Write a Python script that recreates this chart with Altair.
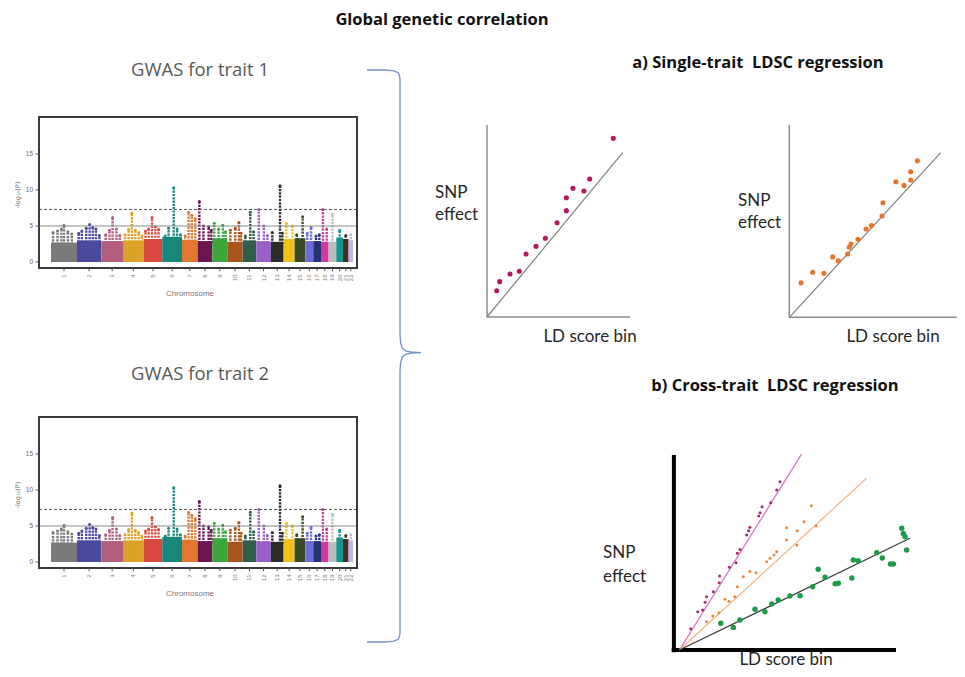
import altair as alt
import pandas as pd

# ---------------- Manhattan plot data ----------------
chromosomes = [str(i) for i in range(1, 23)]
chrom_width = [26, 24.3, 21.7, 20.6, 18.7, 19.7, 15.6, 14.7, 15, 15.3, 13.7,
               14.5, 12.8, 11, 10.7, 8, 7.7, 7.6, 7.7, 6.7, 5.6, 4.4]
chrom_base = [2.7, 3.0, 2.9, 3.0, 3.2, 3.5, 3.1, 2.9, 3.3, 2.8, 3.0,
              2.9, 2.8, 3.2, 3.3, 2.9, 2.9, 2.8, 2.8, 3.4, 3.2, 3.0]
chrom_colors = ["#7a7a7a", "#4a4a9e", "#b35d7f", "#dba227", "#d9493f", "#17877c",
                "#e0792f", "#6b1551", "#3aa63c", "#a9531d", "#2f5f4b", "#9a5fc9",
                "#2b2b2b", "#f0c31b", "#3b4a23", "#6c6cd6", "#26317a", "#d1399a",
                "#bdbdbd", "#14968f", "#4a2b1f", "#b9b9ea"]

peak_chrom = [1, 1, 1, 1, 1, 1,
              2, 2, 2, 2, 2, 2, 2,
              3, 3, 3, 3, 3,
              4, 4, 4, 4, 4, 4,
              5, 5, 5, 5, 5,
              6, 6, 6, 6, 6,
              7, 7, 7, 7,
              8, 8, 8, 8,
              9, 9, 9, 9,
              10, 10, 10, 10,
              11, 11, 11,
              12, 12, 12,
              13, 13, 13,
              14, 14, 15, 15, 16, 16, 17, 17, 18, 18, 19, 20, 21, 22]
peak_frac = [0.08, 0.25, 0.40, 0.50, 0.65, 0.80,
             0.07, 0.20, 0.38, 0.52, 0.65, 0.78, 0.92,
             0.20, 0.38, 0.52, 0.70, 0.85,
             0.10, 0.27, 0.43, 0.60, 0.76, 0.92,
             0.10, 0.27, 0.45, 0.63, 0.80,
             0.15, 0.32, 0.58, 0.75, 0.92,
             0.20, 0.42, 0.63, 0.85,
             0.12, 0.40, 0.75, 0.93,
             0.13, 0.42, 0.70, 0.88,
             0.20, 0.52, 0.76, 0.90,
             0.20, 0.56, 0.80,
             0.17, 0.52, 0.76,
             0.12, 0.72, 0.90,
             0.25, 0.80, 0.20, 0.75, 0.25, 0.72, 0.35, 0.78, 0.25, 0.75, 0.5, 0.5, 0.5, 0.5]
peak_value = [4.1, 4.3, 4.6, 5.1, 4.2, 3.9,
              4.0, 4.3, 4.7, 5.2, 4.8, 4.6, 3.7,
              3.8, 4.4, 6.2, 4.6, 3.7,
              3.8, 4.5, 6.8, 4.4, 4.1, 3.6,
              4.3, 4.6, 6.2, 4.9, 4.5,
              3.6, 4.7, 10.3, 4.6, 3.8,
              3.6, 6.9, 6.5, 6.0,
              8.4, 5.0, 4.9, 4.4,
              5.4, 4.6, 5.1, 4.2,
              4.4, 4.7, 5.5, 4.0,
              3.6, 6.9, 4.2,
              7.3, 5.0, 3.7,
              4.1, 10.6, 4.0,
              5.4, 5.0, 3.8, 6.3, 4.0, 4.8, 3.6, 3.8, 7.3, 4.6, 6.6, 4.4, 3.7, 3.8]

line_genomewide = 7.3
line_suggestive = 5.0
y_tick_values = [0, 5, 10, 15]

# ---------------- a) single-trait LDSC ----------------
st1_x = [0.68, 0.89, 1.61, 2.26, 2.73, 3.43, 4.08, 4.90, 5.55, 5.55, 6.01, 6.78, 7.18, 8.83]
st1_y = [1.37, 1.84, 2.24, 2.38, 3.28, 3.68, 4.10, 4.91, 5.54, 6.21, 6.70, 6.56, 7.19, 9.31]
st1_fit_x = [0, 9.49]
st1_fit_y = [0, 8.56]

st2_x = [0.67, 1.33, 1.97, 2.47, 2.79, 3.32, 3.41, 3.51, 3.91, 4.37, 4.68, 5.28, 5.33,
         6.07, 6.53, 6.91, 6.91, 7.29]
st2_y = [1.80, 2.34, 2.29, 3.14, 2.94, 3.29, 3.64, 3.81, 4.06, 4.59, 4.77, 5.27, 5.96,
         7.05, 6.86, 7.14, 7.57, 8.14]
st2_fit_x = [0, 8.62]
st2_fit_y = [0, 8.56]

# ---------------- b) cross-trait LDSC ----------------
ct_mag_x = [0.71, 1.03, 1.25, 1.36, 1.43, 1.73, 2.00, 2.02, 2.46, 2.76, 2.82, 2.94, 3.24,
            3.33, 3.39, 3.79, 3.85, 3.94, 4.33, 4.60, 4.75]
ct_mag_y = [1.09, 1.96, 2.05, 2.45, 2.73, 2.99, 3.45, 3.79, 4.24, 4.48, 4.96, 5.16, 5.90,
            6.12, 6.29, 6.87, 7.04, 7.35, 7.55, 8.21, 8.63]
ct_ora_x = [1.43, 1.71, 1.99, 2.26, 2.44, 2.71, 2.82, 3.09, 3.39, 3.67, 4.15, 4.30, 4.48,
            4.60, 5.05, 5.05, 5.51, 5.53, 5.84, 6.17, 6.38]
ct_ora_y = [1.45, 1.74, 1.91, 2.60, 2.50, 2.73, 3.25, 3.76, 4.02, 3.96, 4.53, 4.70, 4.87,
            5.04, 5.64, 6.27, 5.38, 6.12, 6.58, 7.40, 6.36]
ct_grn_x = [2.07, 2.64, 2.94, 3.62, 4.07, 4.38, 4.67, 5.20, 5.66, 6.23, 6.48, 6.79, 7.25,
            7.39, 8.00, 8.07, 8.29, 9.13, 9.38, 9.75, 9.88, 10.26, 10.33, 10.41, 10.48]
ct_grn_y = [1.37, 1.16, 1.54, 2.09, 1.96, 2.36, 2.56, 2.77, 2.78, 3.25, 4.14, 3.73, 3.40,
            3.42, 3.69, 4.62, 4.58, 4.99, 4.72, 4.41, 4.41, 6.24, 5.98, 5.81, 5.13]
ct_line_id = ["magenta", "magenta", "orange", "orange", "grey", "grey"]
ct_line_x = [0.2, 5.73, 0.2, 8.67, 0.2, 10.63]
ct_line_y = [0, 10.05, 0, 8.81, 0, 5.73]
ct_line_colors = {"magenta": "#d56fc4", "orange": "#f5b68a", "grey": "#3d3d3d"}

# curly brace outline (normalised 0..1 units)
brace_x = [0, 0.327, 0.491, 0.573, 0.6, 0.6, 0.61, 0.64, 0.70, 0.80, 0.98,
           0.80, 0.70, 0.64, 0.61, 0.6, 0.6, 0.573, 0.491, 0.327, 0]
brace_y = [0, 0, 0.0014, 0.0052, 0.014, 0.462, 0.476, 0.486, 0.491, 0.493, 0.494,
           0.495, 0.497, 0.502, 0.512, 0.526, 0.986, 0.995, 0.9986, 1, 1]


# ---------------- helpers ----------------
def sc(domain, rng):
    return alt.Scale(domain=domain, range=rng, nice=False, zero=False)


def text_layer(label, x, y, size=16, bold=False, color="#262626", align="center", font="Lato"):
    return alt.Chart(pd.DataFrame({"t": [label]})).mark_text(
        font=font, fontSize=size, fontWeight="bold" if bold else "normal",
        color=color, align=align, baseline="middle"
    ).encode(x=alt.value(x), y=alt.value(y), text="t:N")


# ---------------- Manhattan ----------------
starts, acc = [], 0.0
for w in chrom_width:
    starts.append(acc)
    acc += w
chrom_df = pd.DataFrame({
    "chrom": chromosomes, "start": starts,
    "end": [s + w for s, w in zip(starts, chrom_width)],
    "mid": [s + w / 2 for s, w in zip(starts, chrom_width)],
    "base": chrom_base, "zero": 0.0, "color": chrom_colors,
})
peak_df = pd.DataFrame({"chrom": peak_chrom, "frac": peak_frac, "peak": peak_value})
peak_df["x"] = [starts[c - 1] + f * chrom_width[c - 1] for c, f in zip(peak_chrom, peak_frac)]
peak_df["base"] = [chrom_base[c - 1] - 0.3 for c in peak_chrom]
peak_df["color"] = [chrom_colors[c - 1] for c in peak_chrom]
tick_df = pd.DataFrame({"v": y_tick_values, "lab": [str(v) for v in y_tick_values]})
XMIN, XMAX = -12, 306
YMIN, YMAX = -0.83, 20.14
frame_df = pd.DataFrame({"x0": [XMIN], "x1": [XMAX], "y0": [YMIN], "y1": [YMAX]})
thr_df = pd.DataFrame({"y": [line_genomewide, line_suggestive], "x0": XMIN, "x1": XMAX})


def manhattan(yrange):
    X = sc([XMIN, XMAX], [31, 349])
    Y = sc([YMIN, YMAX], yrange)
    col = alt.Color("color:N", scale=None)
    out = []
    out.append(alt.Chart(chrom_df).mark_rect().encode(
        x=alt.X("start:Q", scale=X, axis=None), x2="end:Q",
        y=alt.Y("zero:Q", scale=Y, axis=None), y2="base:Q", color=col))
    out.append(alt.Chart(peak_df).mark_rule(strokeWidth=2.4, strokeDash=[2.2, 1.1]).encode(
        x=alt.X("x:Q", scale=X, axis=None),
        y=alt.Y("base:Q", scale=Y, axis=None), y2="peak:Q", color=col))
    out.append(alt.Chart(peak_df).mark_circle(size=9, opacity=1).encode(
        x=alt.X("x:Q", scale=X, axis=None),
        y=alt.Y("peak:Q", scale=Y, axis=None), color=col))
    out.append(alt.Chart(thr_df.iloc[[0]]).mark_rule(color="#555555", strokeWidth=1, strokeDash=[3, 2]).encode(
        x=alt.X("x0:Q", scale=X, axis=None), x2="x1:Q",
        y=alt.Y("y:Q", scale=Y, axis=None)))
    out.append(alt.Chart(thr_df.iloc[[1]]).mark_rule(color="#8a8a8a", strokeWidth=1.2).encode(
        x=alt.X("x0:Q", scale=X, axis=None), x2="x1:Q",
        y=alt.Y("y:Q", scale=Y, axis=None)))
    out.append(alt.Chart(frame_df).mark_rect(fillOpacity=0, stroke="#3a3a3a", strokeWidth=2).encode(
        x=alt.X("x0:Q", scale=X, axis=None), x2="x1:Q",
        y=alt.Y("y0:Q", scale=Y, axis=None), y2="y1:Q"))
    # y ticks and labels
    out.append(alt.Chart(tick_df).mark_rule(color="#555555", strokeWidth=1).encode(
        x=alt.XDatum(XMIN - 3.5, scale=X, axis=None), x2=alt.X2Datum(XMIN),
        y=alt.Y("v:Q", scale=Y, axis=None)))
    out.append(alt.Chart(tick_df).mark_text(font="Liberation Sans", fontSize=6.5, color="#666666",
                                            align="right", baseline="middle").encode(
        x=alt.XDatum(XMIN - 6, scale=X, axis=None),
        y=alt.Y("v:Q", scale=Y, axis=None), text="lab:N"))
    # x ticks and labels
    out.append(alt.Chart(chrom_df).mark_rule(color="#555555", strokeWidth=1).encode(
        x=alt.X("mid:Q", scale=X, axis=None),
        y=alt.YDatum(YMIN, scale=Y, axis=None), y2=alt.Y2Datum(YMIN - 0.45)))
    out.append(alt.Chart(chrom_df).mark_text(font="Liberation Sans", fontSize=6, color="#777777",
                                             align="right", baseline="middle", angle=270).encode(
        x=alt.X("mid:Q", scale=X, axis=None),
        y=alt.YDatum(YMIN - 0.9, scale=Y, axis=None), text="chrom:N"))
    out.append(alt.Chart(pd.DataFrame({"t": ["Chromosome"]})).mark_text(
        font="Liberation Sans", fontSize=8, color="#777777", align="center", baseline="middle").encode(
        x=alt.XDatum(139, scale=X, axis=None),
        y=alt.YDatum(-4.5, scale=Y, axis=None), text="t:N"))
    out.append(alt.Chart(pd.DataFrame({"t": ["-log\u2081\u2080(P)"]})).mark_text(
        font="DejaVu Sans", fontSize=6.5, color="#666666", align="center", baseline="middle",
        angle=270).encode(
        x=alt.XDatum(XMIN - 21.5, scale=X, axis=None),
        y=alt.YDatum(9.3, scale=Y, axis=None), text="t:N"))
    return out


# ---------------- single-trait panels ----------------
def scatter_panel(xr, yr, px, py, fx, fy, color):
    X = sc([0, 10], xr)
    Y = sc([0, 10], yr)
    out = []
    axes = pd.DataFrame({"x0": [0, 0], "x1": [0, 10], "y0": [0, 0], "y1": [10, 0]})
    out.append(alt.Chart(axes).mark_rule(color="#8c8c8c", strokeWidth=1.5).encode(
        x=alt.X("x0:Q", scale=X, axis=None), x2="x1:Q",
        y=alt.Y("y0:Q", scale=Y, axis=None), y2="y1:Q"))
    out.append(alt.Chart(pd.DataFrame({"x": fx, "y": fy})).mark_line(color="#808080", strokeWidth=1.2).encode(
        x=alt.X("x:Q", scale=X, axis=None), y=alt.Y("y:Q", scale=Y, axis=None)))
    out.append(alt.Chart(pd.DataFrame({"x": px, "y": py})).mark_circle(size=26, opacity=1, color=color).encode(
        x=alt.X("x:Q", scale=X, axis=None), y=alt.Y("y:Q", scale=Y, axis=None)))
    return out


# ---------------- cross-trait panel ----------------
def cross_panel():
    X = sc([0, 10], [667, 888])
    Y = sc([0, 10], [642, 447])
    out = []
    axes = pd.DataFrame({"x0": [-0.05, -0.15], "x1": [-0.05, 10], "y0": [-0.12, 0], "y1": [10, 0]})
    out.append(alt.Chart(axes).mark_rule(color="#000000", strokeWidth=4).encode(
        x=alt.X("x0:Q", scale=X, axis=None), x2="x1:Q",
        y=alt.Y("y0:Q", scale=Y, axis=None), y2="y1:Q"))
    ldf = pd.DataFrame({"id": ct_line_id, "x": ct_line_x, "y": ct_line_y,
                        "c": [ct_line_colors[i] for i in ct_line_id]})
    out.append(alt.Chart(ldf).mark_line(strokeWidth=1.3).encode(
        x=alt.X("x:Q", scale=X, axis=None), y=alt.Y("y:Q", scale=Y, axis=None),
        detail="id:N", color=alt.Color("c:N", scale=None)))
    out.append(alt.Chart(pd.DataFrame({"x": ct_grn_x, "y": ct_grn_y})).mark_circle(
        size=30, opacity=1, color="#1f9a4b").encode(
        x=alt.X("x:Q", scale=X, axis=None), y=alt.Y("y:Q", scale=Y, axis=None)))
    out.append(alt.Chart(pd.DataFrame({"x": ct_ora_x, "y": ct_ora_y})).mark_circle(
        size=9, opacity=1, color="#ec8736").encode(
        x=alt.X("x:Q", scale=X, axis=None), y=alt.Y("y:Q", scale=Y, axis=None)))
    out.append(alt.Chart(pd.DataFrame({"x": ct_mag_x, "y": ct_mag_y})).mark_circle(
        size=9, opacity=1, color="#a8276f").encode(
        x=alt.X("x:Q", scale=X, axis=None), y=alt.Y("y:Q", scale=Y, axis=None)))
    return out


def brace():
    X = sc([0, 1], [359, 414])
    Y = sc([0, 1], [62, 634])
    df = pd.DataFrame({"x": brace_x, "y": brace_y, "o": list(range(len(brace_x)))})
    return [alt.Chart(df).mark_line(color="#7391c6", strokeWidth=1.3).encode(
        x=alt.X("x:Q", scale=X, axis=None), y=alt.Y("y:Q", scale=Y, axis=None), order="o:Q")]


layers = []
layers += manhattan([260, 109])
layers += manhattan([560, 409])
layers += brace()
layers += scatter_panel([479, 622], [309, 117], st1_x, st1_y, st1_fit_x, st1_fit_y, "#b5185f")
layers += scatter_panel([781.3, 957], [309.3, 117], st2_x, st2_y, st2_fit_x, st2_fit_y, "#e8742a")
layers += cross_panel()

layers += [
    text_layer("Global genetic correlation", 434, 12, size=16.5, bold=True, color="#111111",
               font="Open Sans"),
    text_layer("GWAS for trait 1", 192, 62, size=18.5, color="#595959", font="Open Sans"),
    text_layer("GWAS for trait 2", 192, 366, size=18.5, color="#595959", font="Open Sans"),
    text_layer("a) Single-trait\u00a0 LDSC regression", 750, 55, size=16.5, bold=True,
               color="#111111", font="Open Sans"),
    text_layer("b) Cross-trait\u00a0 LDSC regression", 767, 378, size=16.5, bold=True,
               color="#111111", font="Open Sans"),
    text_layer("SNP", 427, 185, size=17, align="left"),
    text_layer("effect", 427, 207, size=17, align="left"),
    text_layer("SNP", 730, 193, size=17, align="left"),
    text_layer("effect", 730, 215, size=17, align="left"),
    text_layer("SNP", 595, 545, size=17, align="left"),
    text_layer("effect", 595, 569, size=17, align="left"),
    text_layer("LD score bin", 582, 329, size=17),
    text_layer("LD score bin", 885, 329, size=17),
    text_layer("LD score bin", 778, 652, size=17),
]

chart = alt.layer(*layers).resolve_scale(
    x="independent", y="independent"
).properties(
    width=949, height=661, padding=0, autosize=alt.AutoSizeParams(type="none"),
    background="white"
).configure_view(stroke=None)

chart.save("out.html", embed_options={"renderer": "svg", "actions": False})
